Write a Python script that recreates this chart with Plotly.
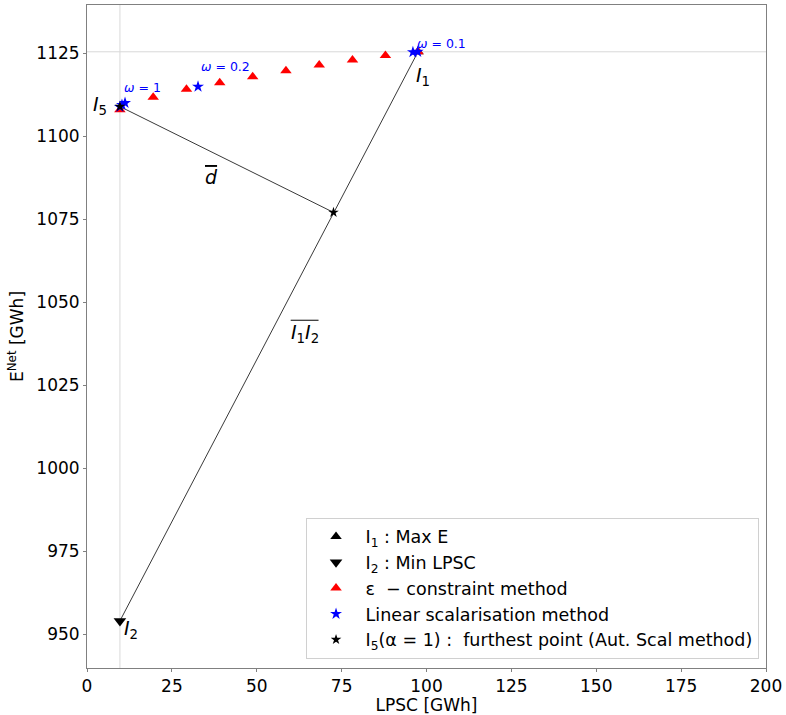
import plotly.graph_objects as go

# ---- data ----
i1 = (97.5, 1125.5)          # I1 : Max E
i2 = (9.7, 954.0)            # I2 : Min LPSC
i5 = (9.7, 1109.0)           # I5 : furthest point
foot = (72.6, 1077.1)        # projection of I5 on I1-I2

eps_x = [9.7, 19.5, 29.3, 39.1, 48.8, 58.6, 68.4, 78.2, 87.9, 97.5]
eps_y = [1108.0, 1111.8, 1114.2, 1116.2, 1118.0, 1119.8, 1121.5, 1123.0, 1124.4, 1125.5]

lin_x = [9.7, 10.3, 11.2, 32.7, 96.0, 97.4]
lin_y = [1108.9, 1109.5, 1110.1, 1115.0, 1125.4, 1125.5]

omega_labels = ["<i>ω</i> = 1", "<i>ω</i> = 0.2", "<i>ω</i> = 0.1"]
omega_x = [10.4, 33.0, 96.6]
omega_y = [1114.8, 1121.1, 1128.0]

x_ticks = [0, 25, 50, 75, 100, 125, 150, 175, 200]
y_ticks = [950, 975, 1000, 1025, 1050, 1075, 1100, 1125]

FONT = "DejaVu Sans"

fig = go.Figure()

# reference lines
fig.add_trace(go.Scatter(x=[i1[0], i2[0]], y=[i1[1], i2[1]], mode="lines",
                         line=dict(color="#222", width=0.9), showlegend=False, hoverinfo="skip"))
fig.add_trace(go.Scatter(x=[i5[0], foot[0]], y=[i5[1], foot[1]], mode="lines",
                         line=dict(color="#222", width=0.9), showlegend=False, hoverinfo="skip"))

fig.add_trace(go.Scatter(x=[i1[0]], y=[i1[1]], mode="markers", name="I<sub>1</sub> : Max E",
                         marker=dict(symbol="triangle-up", size=10, color="black")))
fig.add_trace(go.Scatter(x=[i2[0]], y=[i2[1]], mode="markers", name="I<sub>2</sub> : Min LPSC",
                         marker=dict(symbol="triangle-down", size=11, color="black")))
fig.add_trace(go.Scatter(x=eps_x, y=eps_y, mode="markers", name="ε  − constraint method",
                         marker=dict(symbol="triangle-up", size=10, color="red")))
fig.add_trace(go.Scatter(x=lin_x, y=lin_y, mode="markers", name="Linear scalarisation method",
                         marker=dict(symbol="star", size=9, color="blue")))
fig.add_trace(go.Scatter(x=[i5[0], foot[0]], y=[i5[1], foot[1]], mode="markers",
                         name="I<sub>5</sub>(α = 1) :  furthest point (Aut. Scal method)",
                         marker=dict(symbol="star", size=8, color="black")))

# highlight lines
fig.add_vline(x=i2[0], line=dict(color="#d9d9d9", width=1), layer="below")
fig.add_hline(y=i1[1], line=dict(color="#d9d9d9", width=1), layer="below")

for t, x, y in zip(omega_labels, omega_x, omega_y):
    fig.add_annotation(x=x, y=y, text=t, showarrow=False, xanchor="left", yanchor="middle",
                       font=dict(family=FONT, size=12.5, color="blue"))

labels = [
    ("<i>I</i><sub>5</sub>", 3.9, 1109.3),
    ("<i>I</i><sub>1</sub>", 98.9, 1118.1),
    ("<i>I</i><sub>2</sub>", 13.0, 951.3),
    ("<span style='text-decoration:overline'><i>d</i></span>", 36.6, 1087.9),
    ("<i>I</i><sub>1</sub><i>I</i><sub>2</sub>", 64.2, 1040.6),
]
for t, x, y in labels:
    fig.add_annotation(x=x, y=y, text=t, showarrow=False, xanchor="center", yanchor="middle",
                       font=dict(family=FONT, size=19, color="black"))
# overline over I1I2
fig.add_shape(type="line", x0=60.0, x1=68.2, y0=1044.6, y1=1044.6,
              line=dict(color="black", width=1))

axis_common = dict(showgrid=False, zeroline=False, showline=True, linecolor="#808080",
                   linewidth=1, mirror=True, ticks="outside", ticklen=3, tickcolor="#808080",
                   tickfont=dict(family=FONT, size=17, color="black"))

fig.update_layout(
    width=786, height=715,
    margin=dict(l=87, r=18, t=4, b=47),
    plot_bgcolor="white", paper_bgcolor="white",
    font=dict(family=FONT, size=17, color="black"),
    xaxis=dict(range=[0, 200], tickvals=x_ticks, **axis_common,
               title=dict(text="LPSC [GWh]", font=dict(family=FONT, size=17), standoff=3)),
    yaxis=dict(range=[939.8, 1139.6], tickvals=y_ticks, **axis_common,
               title=dict(text="E<sup>Net</sup> [GWh]", font=dict(family=FONT, size=17), standoff=8)),
    legend=dict(x=0.989, y=0.014, xanchor="right", yanchor="bottom",
                bordercolor="#d0d0d0", borderwidth=1, bgcolor="rgba(255,255,255,0.85)",
                font=dict(family=FONT, size=17.5), tracegroupgap=0, itemwidth=49),
    showlegend=True,
)

fig.write_html("out.html", config={"displayModeBar": False},
               post_script="document.body.style.margin='0';")
